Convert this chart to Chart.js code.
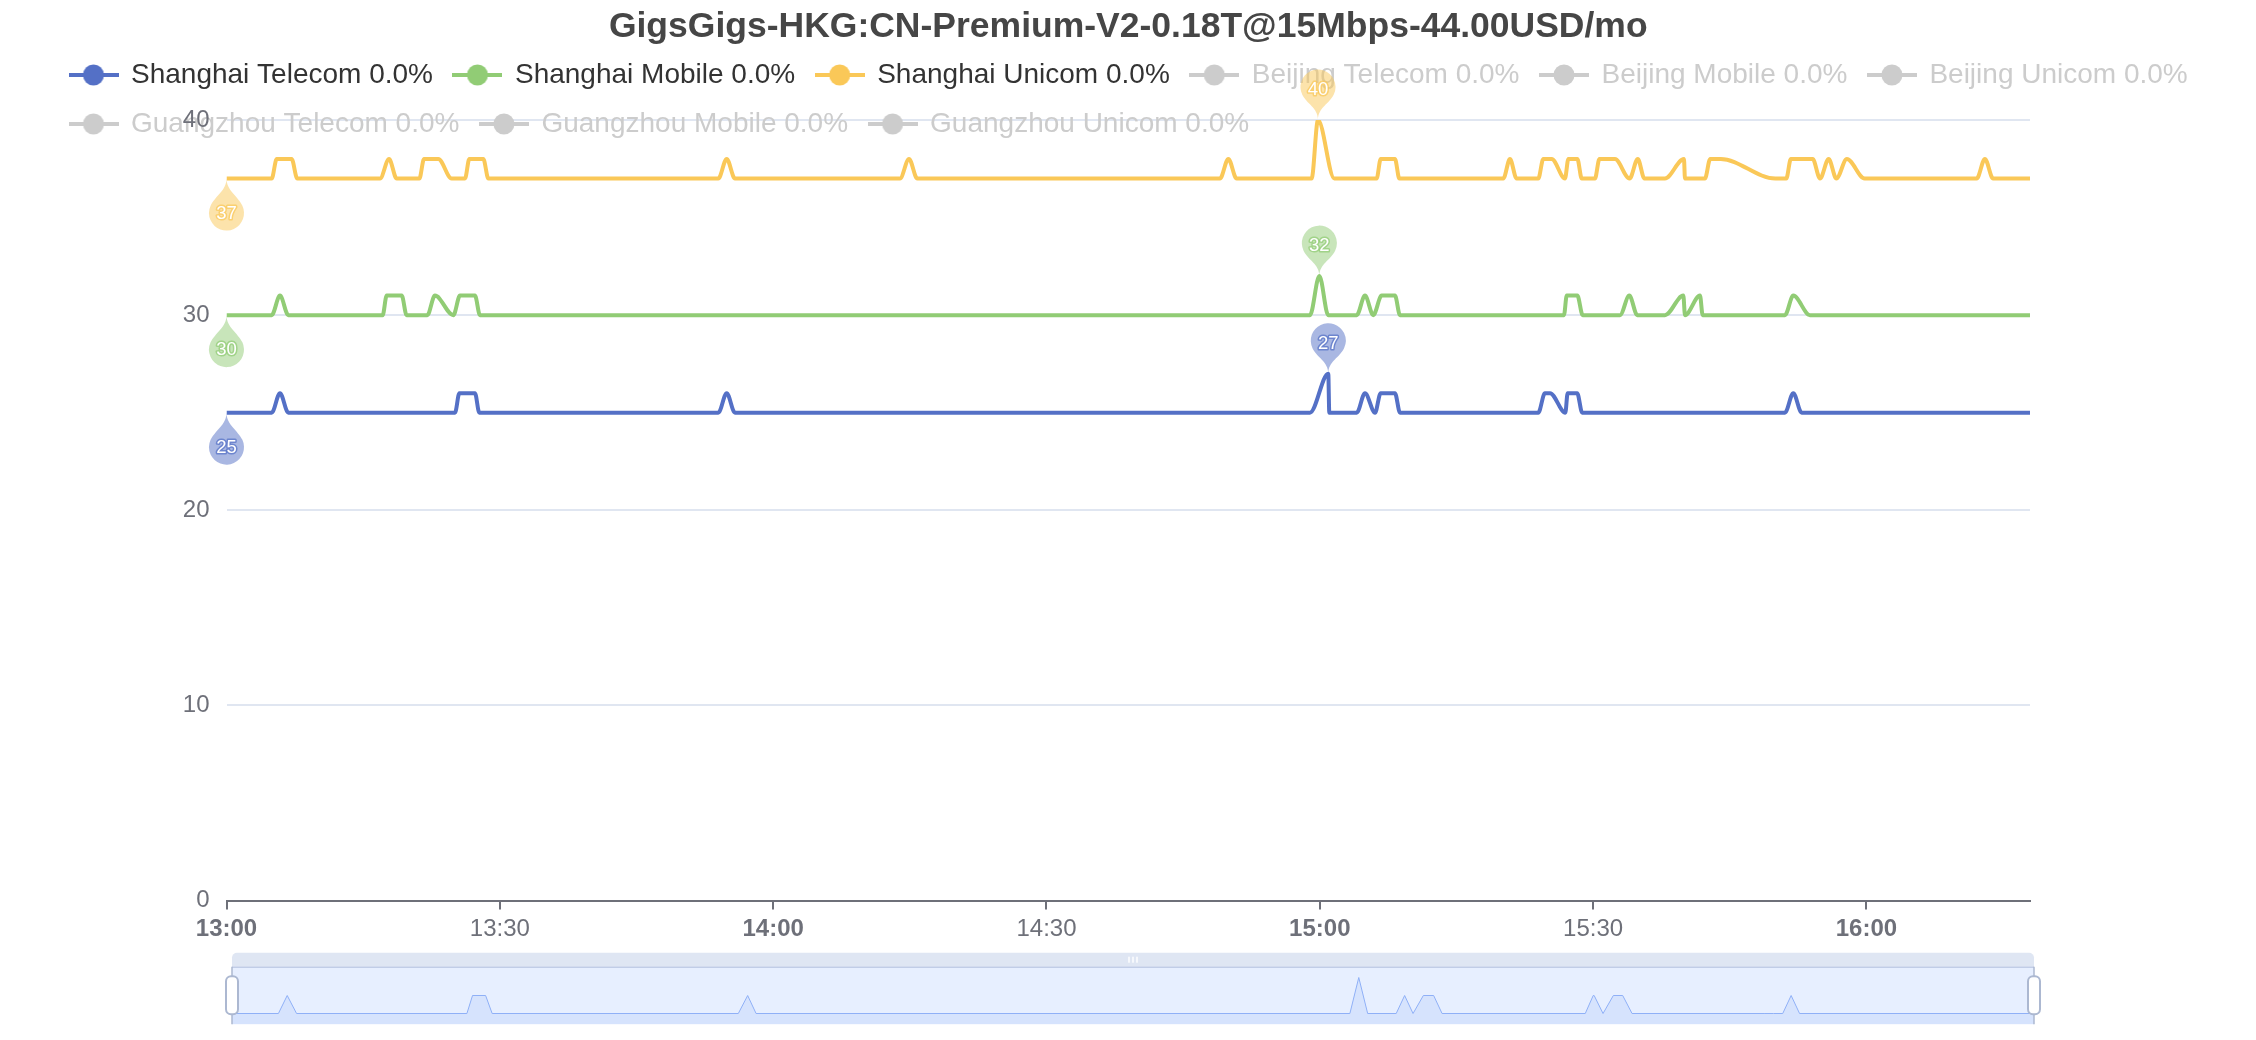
<!DOCTYPE html>
<html><head><meta charset="utf-8">
<script src="https://cdn.jsdelivr.net/npm/chart.js@4/dist/chart.umd.min.js"></script>
<style>
html,body{margin:0;padding:0;background:#fff;}
#wrap{position:relative;width:2256px;height:1040px;overflow:hidden;}
#main{position:absolute;left:0;top:0;}
#zoom{position:absolute;left:200px;top:940px;}
</style></head><body>
<div id="wrap"><canvas id="main" width="2256" height="1040"></canvas><canvas id="zoom" width="1860" height="95"></canvas></div>
<script>
// ---------------- data ----------------
const chartTitle = 'GigsGigs-HKG:CN-Premium-V2-0.18T@15Mbps-44.00USD/mo';
const seriesNames = ['Shanghai Telecom 0.0%','Shanghai Mobile 0.0%','Shanghai Unicom 0.0%','Beijing Telecom 0.0%','Beijing Mobile 0.0%','Beijing Unicom 0.0%','Guangzhou Telecom 0.0%','Guangzhou Mobile 0.0%','Guangzhou Unicom 0.0%'];
const seriesActive = [true,true,true,false,false,false,false,false,false];
const seriesColors = ['#5470c6','#91cc75','#fac858','#ccc','#ccc','#ccc','#ccc','#ccc','#ccc'];
// x in minutes after 13:00
const xTickMinutes = [0,30,60,90,120,150,180];
const xTickLabels = ['13:00','13:30','14:00','14:30','15:00','15:30','16:00'];
const yTicks = [0,10,20,30,40];

const telecomTime  = [0,4.96,5.87,6.79,25.08,25.56,27.27,27.75,53.98,54.9,55.81,118.92,120.93,121.04,124.05,124.96,126.06,126.68,128.25,128.8,143.98,144.71,145.27,146.95,147.2,148.25,148.8,163.0,170.05,171.05,171.97,172.89,197.95];
const telecomValue = [25,25,26,25,25,26,26,25,25,26,25,25,27,25,25,26,25,26,26,25,25,26,26,25,26,26,25,25,25,25,26,25,25];
// position of each telecom sample along the zoom slider (sample order, minutes of sampling)
const telecomSlot  = [0,4.96,5.9,6.9,25.1,25.7,27.1,27.8,54.1,55.1,56.0,119.45,120.4,121.35,124.4,125.3,126.2,127.3,128.4,129.3,144.6,145.45,145.55,146.5,147.6,148.6,149.6,163.8,164.7,165.7,166.6,167.5,192.55];

const mobileTime  = [0,4.96,5.87,6.79,17.14,17.58,19.23,19.77,22.04,22.88,24.9,25.63,27.27,27.82,118.92,119.95,120.93,124.05,124.96,125.87,126.79,128.25,128.8,146.8,147.1,148.27,148.85,152.95,153.97,154.85,157.88,159.9,160.08,161.73,162.02,171.05,171.97,173.8,197.95];
const mobileValue = [30,30,31,30,30,31,31,30,30,31,30,31,31,30,30,32,30,30,31,30,31,31,30,30,31,31,30,30,31,30,30,31,30,31,30,30,31,30,30];

const unicomTime  = [0,4.96,5.51,7.15,7.77,16.85,17.84,18.68,21.17,21.68,23.25,24.71,26.18,26.65,28.19,28.74,53.98,54.9,55.81,73.92,74.91,75.82,109.04,109.96,110.87,119.1,119.8,121.6,126.24,126.68,128.25,128.73,140.14,140.87,141.6,143.98,144.53,145.45,146.91,147.28,148.27,148.75,150.2,150.69,152.4,154.0,154.9,155.63,157.88,159.97,160.08,162.27,162.85,164.0,170.0,171.2,171.7,174.1,174.9,175.85,176.7,177.85,179.8,192.1,193.0,193.9,197.95];
const unicomValue = [37,37,38,38,37,37,38,37,37,38,38,37,37,38,38,37,37,38,37,37,38,37,37,38,37,37,40,37,37,38,38,37,37,38,37,37,38,38,37,38,38,37,37,38,38,37,38,37,37,38,37,37,38,38,37,37,38,38,37,38,37,38,37,37,38,37,37];

// ---------------- helpers ----------------
Chart.defaults.font.family = "'Liberation Sans', Arial, Helvetica, sans-serif";
const toPoints = (ts, vs) => ts.map((t, i) => ({x: t, y: vs[i]}));
const seriesData = [toPoints(telecomTime, telecomValue), toPoints(mobileTime, mobileValue), toPoints(unicomTime, unicomValue)];

function makeIcon(color) {
  const c = document.createElement('canvas');
  c.width = 50; c.height = 28;
  const g = c.getContext('2d');
  g.strokeStyle = color; g.lineWidth = 4;
  g.beginPath(); g.moveTo(0, 14); g.lineTo(50, 14); g.stroke();
  g.fillStyle = color;
  g.beginPath(); g.arc(25, 14, 10.5, 0, Math.PI * 2); g.fill();
  return c;
}
const icons = seriesNames.map((n, i) => makeIcon(seriesActive[i] ? seriesColors[i] : '#ccc'));

function pinPath(ctx, r, d) {
  const k = (d + Math.sqrt(d * d + 4 * r * r)) / 2;
  const dy = r * r / k;
  const cy = -d;
  const ang = Math.asin(dy / r);
  const dx = Math.cos(ang) * r;
  const tx = Math.sin(ang), ty = Math.cos(ang);
  const c1 = r * 0.6, c2 = r * 0.7;
  ctx.beginPath();
  ctx.moveTo(-dx, cy + dy);
  ctx.arc(0, cy, r, Math.PI - ang, Math.PI * 2 + ang);
  ctx.bezierCurveTo(dx - tx * c1, cy + dy + ty * c1, 0, -c2, 0, 0);
  ctx.bezierCurveTo(0, -c2, -dx + tx * c1, cy + dy + ty * c1, -dx, cy + dy);
  ctx.closePath();
}
function drawPin(ctx, px, py, color, value, inverted) {
  ctx.save();
  ctx.globalAlpha = 0.5;
  ctx.translate(px, py);
  ctx.save();
  if (inverted) ctx.rotate(Math.PI);
  pinPath(ctx, 17.5, inverted ? 34.5 : 33);
  ctx.fillStyle = color;
  ctx.fill();
  ctx.restore();
  const ly = inverted ? 35 : -30;
  ctx.font = "18.5px 'Liberation Sans', Arial, sans-serif";
  ctx.textAlign = 'center'; ctx.textBaseline = 'middle';
  ctx.lineJoin = 'round';
  ctx.strokeStyle = color; ctx.lineWidth = 3;
  ctx.globalAlpha = 0.7;
  ctx.strokeText(String(value), 0, ly);
  ctx.globalAlpha = 1;
  ctx.fillStyle = '#fff';
  ctx.fillText(String(value), 0, ly);
  ctx.restore();
}
const pinPlugin = {
  id: 'pins',
  afterDatasetsDraw(chart) {
    const {ctx, scales: {x, y}} = chart;
    const list = [[telecomTime, telecomValue, seriesColors[0]], [mobileTime, mobileValue, seriesColors[1]], [unicomTime, unicomValue, seriesColors[2]]];
    list.forEach(([ts, vs, col]) => {
      let iMax = 0, iMin = 0;
      vs.forEach((v, i) => { if (v > vs[iMax]) iMax = i; if (v < vs[iMin]) iMin = i; });
      drawPin(ctx, x.getPixelForValue(ts[iMin]), y.getPixelForValue(vs[iMin]), col, vs[iMin], true);
      drawPin(ctx, x.getPixelForValue(ts[iMax]), y.getPixelForValue(vs[iMax]), col, vs[iMax], false);
    });
  }
};
// let the (height-limited) legend paint its second row over the top of the plot, as in the original
const legendOverflow = {
  id: 'legendOverflow',
  afterLayout(chart) {
    const l = chart.legend;
    if (l) { l.height = 120; l.bottom = l.top + 120; }
  }
};

// ---------------- main chart ----------------
const datasets = seriesNames.map((name, i) => ({
  label: name,
  data: i < 3 ? seriesData[i] : [],
  hidden: !seriesActive[i],
  borderColor: seriesColors[i],
  backgroundColor: seriesColors[i],
  borderWidth: 4,
  pointRadius: 0,
  pointHoverRadius: 0,
  fill: false,
  cubicInterpolationMode: 'monotone',
  xAxisID: 'x', yAxisID: 'y'
}));

new Chart(document.getElementById('main'), {
  type: 'line',
  data: {datasets},
  options: {
    responsive: false, animation: false, devicePixelRatio: 1,
    parsing: false, normalized: true,
    layout: {padding: {left: 49, right: 0, top: 0, bottom: 0}},
    events: [],
    scales: {
      x: {
        type: 'linear', min: 0, max: 197.95,
        afterBuildTicks: s => { s.ticks = xTickMinutes.map(v => ({value: v})); },
        ticks: {
          autoSkip: false, maxRotation: 0, minRotation: 0, padding: 5, color: '#6e7079',
          font: c => ({size: 24, weight: (c.tick && c.tick.value % 60 === 0) ? 'bold' : 'normal'}),
          callback: (v, i) => xTickLabels[i]
        },
        grid: {drawOnChartArea: false, drawTicks: true, tickLength: 9, color: '#6e7079', lineWidth: 2},
        border: {display: true, color: '#6e7079', width: 2},
        afterFit: s => { s.height = 139.5; }
      },
      y: {
        type: 'linear', min: 0, max: 40,
        afterBuildTicks: s => { s.ticks = yTicks.map(v => ({value: v})); },
        ticks: {padding: 17, color: '#6e7079', font: {size: 24}},
        grid: {color: '#e0e6f1', lineWidth: 2, drawTicks: false},
        border: {display: false},
        afterFit: s => { s.width = 177.5; }
      },
      yR: {
        type: 'linear', position: 'right', display: true,
        grid: {display: false, drawTicks: false}, ticks: {display: false}, border: {display: false},
        afterFit: s => { s.width = 226; }
      }
    },
    plugins: {
      tooltip: {enabled: false},
      title: {
        display: true, text: chartTitle, fullSize: false, color: '#464646',
        font: {size: 35.5, weight: 'bold', lineHeight: 1},
        padding: {top: 9.5, bottom: -5}
      },
      legend: {
        display: true, position: 'top', align: 'start', maxHeight: 80,
        labels: {
          usePointStyle: true, pointStyleWidth: 47, padding: 21,
          font: {size: 28}, color: '#333',
          generateLabels: chart => chart.data.datasets.map((ds, i) => ({
            text: ds.label,
            fillStyle: seriesColors[i],
            strokeStyle: seriesColors[i],
            lineWidth: 0,
            fontColor: seriesActive[i] ? '#333' : '#ccc',
            hidden: false,
            pointStyle: icons[i],
            datasetIndex: i
          }))
        }
      }
    }
  },
  plugins: [pinPlugin, legendOverflow]
});

// ---------------- zoom slider preview ----------------
const zoomBar = {
  id: 'zoomBar',
  beforeDatasetsDraw(chart) {
    const {ctx, chartArea: a} = chart;
    ctx.save();
    ctx.fillStyle = 'rgba(135,175,255,0.2)';
    ctx.fillRect(a.left, a.top, a.right - a.left, a.bottom - a.top);
    ctx.fillStyle = 'rgba(210,219,238,0.7)';
    ctx.beginPath();
    ctx.roundRect(a.left, a.top - 14, a.right - a.left, 14, [5, 5, 0, 0]);
    ctx.fill();
    ctx.restore();
  },
  afterDatasetsDraw(chart) {
    const {ctx, chartArea: a} = chart;
    ctx.save();
    ctx.strokeStyle = 'rgba(190,202,228,0.9)';
    ctx.lineWidth = 1.5;
    ctx.beginPath(); ctx.moveTo(a.left, a.top + 0.5); ctx.lineTo(a.right, a.top + 0.5); ctx.stroke();
    const cx = (a.left + a.right) / 2;
    ctx.fillStyle = 'rgba(255,255,255,0.9)';
    [-4, 0, 4].forEach(o => ctx.fillRect(cx + o - 0.8, a.top - 10, 1.6, 6));
    [a.left, a.right].forEach(hx => {
      ctx.strokeStyle = '#acb8d1';
      ctx.lineWidth = 1.5;
      ctx.beginPath(); ctx.moveTo(hx, a.top); ctx.lineTo(hx, a.bottom); ctx.stroke();
      ctx.fillStyle = '#fff';
      ctx.beginPath();
      ctx.roundRect(hx - 6, a.top + 9.5, 12, 38, 5);
      ctx.fill();
      ctx.lineWidth = 2;
      ctx.stroke();
    });
    ctx.restore();
  }
};
new Chart(document.getElementById('zoom'), {
  type: 'line',
  data: {datasets: [{
    data: toPoints(telecomSlot, telecomValue),
    borderColor: '#8fb0f7', borderWidth: 1,
    backgroundColor: 'rgba(143,176,247,0.2)', fill: 'start',
    pointRadius: 0, tension: 0
  }]},
  options: {
    responsive: false, animation: false, devicePixelRatio: 1, parsing: false, events: [],
    layout: {padding: {left: 32, right: 26, top: 26.7, bottom: 10.7}},
    scales: {
      x: {type: 'linear', display: false, min: 0, max: 192.55},
      y: {type: 'linear', display: false, min: 24.4, max: 27.6}
    },
    plugins: {legend: {display: false}, title: {display: false}, tooltip: {enabled: false}}
  },
  plugins: [zoomBar]
});
</script>
</body></html>
